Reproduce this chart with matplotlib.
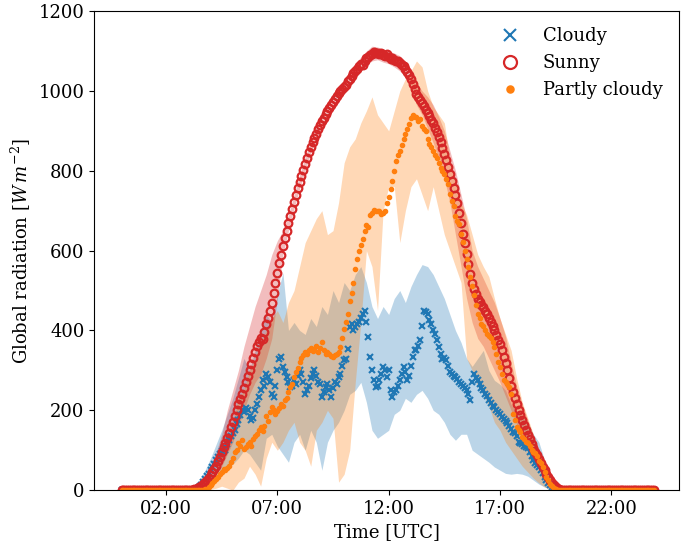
import numpy as np
import matplotlib
matplotlib.use('Agg')
import matplotlib.pyplot as plt
from matplotlib.ticker import FuncFormatter

plt.rcParams['font.family'] = 'DejaVu Serif'
plt.rcParams['mathtext.fontset'] = 'dejavuserif'
plt.rcParams['font.size'] = 13

# 5-min means, 03:00 .. 19:55 (UTC hours); zero at night
sunny = [0, 0, 1, 2, 3, 5, 8, 11, 15, 20, 25, 31,
         38, 45, 52, 60, 72, 83, 95, 107, 118, 130, 143, 157,
         170, 185, 200, 215, 228, 242, 255, 270, 285, 300, 315, 330,
         345, 360, 372, 380, 378, 395, 415, 432, 450, 470, 495, 520,
         545, 568, 590, 612, 632, 650, 668, 686, 704, 722, 740, 756,
         772, 788, 803, 818, 832, 846, 860, 872, 882, 893, 904, 914,
         925, 933, 942, 950, 958, 965, 972, 980, 988, 995, 1000, 1005,
         1010, 1016, 1024, 1030, 1037, 1044, 1050, 1056, 1062, 1068, 1066, 1075,
         1082, 1086, 1090, 1093, 1098, 1096, 1095, 1092, 1094, 1090, 1088, 1092,
         1085, 1080, 1082, 1078, 1074, 1076, 1070, 1066, 1062, 1055, 1048, 1040,
         1030, 1018, 1005, 992, 985, 978, 970, 962, 953, 945, 937, 928,
         920, 908, 897, 885, 872, 858, 842, 826, 810, 792, 775, 758,
         740, 718, 693, 668, 642, 618, 592, 566, 542, 520, 505, 492,
         480, 472, 465, 458, 448, 440, 430, 420, 410, 400, 388, 376,
         365, 350, 334, 318, 300, 282, 262, 246, 230, 215, 200, 188,
         175, 162, 150, 138, 127, 116, 105, 96, 87, 78, 68, 59,
         50, 41, 33, 25, 18, 12, 8, 4, 2, 0, 0, 0]
partly = [0, 0, 0, 0, 0, 0, 0, 0, 1, 2, 4, 8,
          12, 17, 22, 27, 33, 40, 45, 52, 50, 55, 60, 70,
          80, 95, 100, 118, 110, 125, 102, 108, 115, 120, 110, 128,
          135, 140, 150, 158, 148, 160, 185, 172, 195, 208, 200, 192,
          198, 205, 215, 212, 225, 230, 245, 258, 265, 283, 295, 305,
          322, 330, 338, 345, 340, 350, 355, 348, 352, 360, 345, 355,
          371, 350, 342, 346, 340, 335, 333, 338, 340, 345, 358, 380,
          404, 420, 442, 475, 495, 520, 555, 580, 600, 615, 630, 648,
          665, 660, 690, 695, 702, 700, 700, 698, 692, 695, 700, 720,
          735, 755, 775, 800, 825, 840, 850, 865, 880, 892, 905, 918,
          933, 940, 935, 935, 925, 930, 912, 905, 900, 880, 867, 860,
          850, 840, 833, 820, 808, 800, 792, 780, 767, 742, 725, 712,
          687, 675, 667, 642, 621, 600, 580, 560, 535, 512, 490, 465,
          442, 430, 417, 410, 400, 392, 385, 380, 370, 358, 340, 320,
          308, 290, 275, 270, 265, 258, 240, 190, 175, 158, 150, 145,
          133, 128, 120, 117, 110, 100, 95, 92, 85, 72, 67, 58,
          45, 33, 25, 16, 10, 5, 2, 1, 0, 0, 0, 0]
cloudy = [0, 0, 0, 0, 1, 3, 8, 14, 20, 28, 35, 40,
          50, 58, 65, 75, 82, 90, 98, 108, 100, 115, 125, 135,
          142, 150, 165, 175, 188, 200, 195, 205, 200, 185, 175, 180,
          200, 215, 233, 250, 275, 260, 292, 283, 270, 242, 233, 260,
          300, 329, 333, 308, 295, 283, 270, 258, 262, 275, 267, 285,
          300, 290, 270, 242, 250, 262, 280, 292, 300, 285, 270, 267,
          233, 245, 258, 267, 250, 233, 255, 270, 267, 283, 292, 310,
          325, 329, 354, 408, 417, 400, 408, 415, 421, 430, 440, 450,
          421, 383, 333, 300, 275, 258, 262, 275, 290, 308, 300, 283,
          300, 250, 233, 245, 250, 262, 275, 290, 308, 295, 275, 285,
          310, 333, 350, 350, 362, 375, 410, 450, 445, 442, 425, 415,
          400, 390, 375, 358, 340, 329, 330, 325, 310, 296, 290, 285,
          283, 278, 272, 267, 262, 255, 250, 240, 225, 270, 292, 280,
          275, 265, 255, 250, 242, 235, 225, 218, 212, 208, 200, 195,
          190, 183, 178, 172, 167, 160, 152, 145, 142, 135, 120, 117,
          115, 110, 108, 105, 95, 85, 75, 68, 62, 58, 50, 42,
          33, 25, 18, 12, 8, 5, 2, 1, 0, 0, 0, 0]

# 15-min spread bands, 03:00 .. 19:45
sunny_lo = [0, 0, 3, 10, 25, 40, 60, 90, 120, 160, 200, 240, 270, 290, 330, 380, 480,
            590, 650, 705, 755, 800, 845, 878, 910, 935, 955, 978, 993, 1012, 1032, 1050, 1065,
            1075, 1078, 1072, 1068, 1060, 1050, 1035, 1005, 965, 940, 905, 870, 830, 780, 720, 640,
            560, 480, 420, 380, 360, 330, 300, 270, 235, 200, 165, 135, 105, 78, 55, 32, 14, 3, 0]
sunny_hi = [0, 5, 15, 35, 60, 95, 140, 200, 250, 300, 360, 410, 460, 500, 540, 590, 625,
            650, 690, 740, 790, 835, 875, 910, 942, 968, 990, 1012, 1028, 1048, 1068, 1085, 1100,
            1112, 1110, 1105, 1100, 1095, 1088, 1075, 1055, 1020, 1000, 985, 965, 935, 900, 850, 800,
            740, 680, 600, 560, 530, 500, 470, 430, 385, 320, 260, 215, 175, 135, 100, 68, 38, 14, 2]
partly_lo = [0, 0, 0, 0, 2, 5, 10, 5, 0, 20, 30, 60, 40, 10, 80, 120, 100,
             120, 150, 170, 120, 100, 60, 150, 170, 200, 180, 20, 40, 100, 270, 420, 600,
             560, 450, 700, 760, 760, 620, 700, 760, 780, 740, 700, 760, 700, 640, 600, 560,
             520, 330, 300, 260, 240, 210, 170, 150, 120, 100, 80, 60, 45, 30, 18, 8, 2, 0, 0]
partly_hi = [0, 0, 3, 10, 25, 50, 90, 130, 170, 230, 250, 300, 330, 370, 400, 430, 450,
             420, 470, 500, 560, 620, 650, 680, 700, 640, 650, 720, 820, 860, 880, 920, 950,
             985, 940, 920, 900, 950, 1000, 1030, 1050, 1075, 1060, 1000, 960, 940, 920, 830, 770,
             720, 690, 640, 590, 560, 535, 480, 430, 390, 350, 280, 220, 180, 140, 100, 60, 30, 10, 0]
cloudy_lo = [0, 0, 2, 10, 20, 35, 50, 60, 65, 80, 100, 90, 70, 50, 130, 140, 110,
             90, 70, 120, 140, 100, 150, 120, 50, 120, 150, 170, 200, 240, 250, 270, 220,
             150, 130, 140, 150, 190, 200, 230, 220, 240, 250, 230, 200, 190, 170, 140, 125,
             140, 140, 100, 90, 80, 70, 58, 50, 42, 40, 42, 40, 35, 25, 15, 8, 3, 0, 0]
cloudy_hi = [0, 5, 25, 50, 80, 115, 150, 190, 230, 280, 330, 300, 350, 400, 440, 420, 490,
             545, 400, 420, 400, 390, 430, 410, 460, 440, 500, 470, 520, 500, 540, 560, 520,
             460, 430, 460, 440, 480, 500, 470, 510, 540, 565, 560, 540, 510, 480, 440, 400,
             370, 330, 310, 330, 350, 300, 275, 265, 250, 215, 195, 185, 170, 140, 120, 75, 45, 15, 2]

t_band = 3 + np.arange(len(sunny_lo)) / 4.0
t_all = np.arange(288) / 12.0


def full_day(day_vals):
    out = np.zeros(288)
    out[36:36 + len(day_vals)] = day_vals
    return out


fig = plt.figure(figsize=(6.87, 5.52), dpi=100)
ax = fig.add_axes([0.137, 0.112, 0.851, 0.868])

ax.fill_between(t_band, cloudy_lo, cloudy_hi, color='tab:blue', alpha=0.3, lw=0)
ax.fill_between(t_band, sunny_lo, sunny_hi, color='tab:red', alpha=0.3, lw=0)
ax.fill_between(t_band, partly_lo, partly_hi, color='tab:orange', alpha=0.3, lw=0)

ax.plot(t_all, full_day(cloudy), 'x', color='tab:blue', ms=5, mew=1.5, label='Cloudy')
ax.plot(t_all, full_day(sunny), 'o', color='tab:red', mfc='none', ms=5.5, mew=1.6, label='Sunny')
ax.plot(t_all, full_day(partly), '.', color='tab:orange', ms=6, label='Partly cloudy')

ax.set_xlim(-1.23, 25.03)
ax.set_ylim(0, 1200)
ax.set_xticks([2, 7, 12, 17, 22])
ax.xaxis.set_major_formatter(FuncFormatter(lambda v, p: '%02d:00' % int(round(v))))
ax.set_xlabel('Time [UTC]')
ax.set_ylabel(r'Global radiation [$W\,m^{-2}$]')
ax.legend(loc='upper right', frameon=False, markerscale=1.7)

fig.savefig('out.png', dpi=100)
